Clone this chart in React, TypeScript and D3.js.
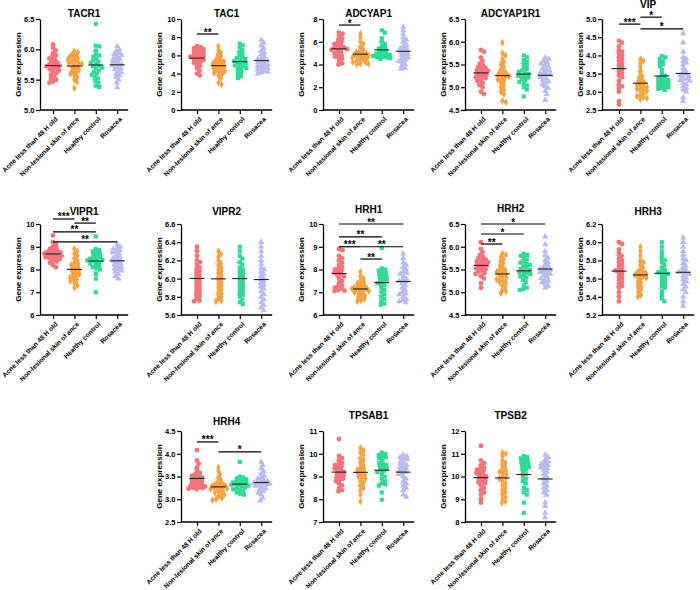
import React, {useEffect, useRef} from 'react';
import * as d3 from 'd3';

const groups = ['Acne less than 48 H old', 'Non-lesional skin of ance', 'Healthy control', 'Rosacea'];
const colors = ['#f5737a', '#f8a23e', '#2ddb96', '#babaf3'];

// values per group
const tacr1 = [
    [6.08, 6.02, 5.98, 5.93, 5.90, 5.87, 5.85, 5.82, 5.80, 5.78, 5.76, 5.75, 5.73, 5.72, 5.70, 5.69, 5.67, 5.65, 5.63, 5.61, 5.58, 5.55, 5.52, 5.50, 5.47, 5.45],
    [5.97, 5.95, 5.92, 5.90, 5.88, 5.86, 5.85, 5.83, 5.81, 5.80, 5.78, 5.77, 5.76, 5.74, 5.72, 5.70, 5.68, 5.66, 5.64, 5.62, 5.60, 5.57, 5.54, 5.50, 5.46, 5.36],
    [6.42, 6.06, 6.05, 5.98, 5.92, 5.90, 5.88, 5.85, 5.82, 5.80, 5.78, 5.75, 5.73, 5.72, 5.70, 5.68, 5.65, 5.63, 5.60, 5.58, 5.55, 5.52, 5.48, 5.45, 5.40, 5.38],
    [6.05, 6.00, 5.97, 5.94, 5.92, 5.90, 5.88, 5.86, 5.84, 5.82, 5.80, 5.78, 5.76, 5.75, 5.73, 5.71, 5.69, 5.67, 5.65, 5.62, 5.60, 5.57, 5.54, 5.50, 5.45, 5.37],
];
const tac1 = [
    [7.0, 6.9, 6.8, 6.7, 6.6, 6.5, 6.4, 6.3, 6.2, 6.1, 6.0, 5.9, 5.85, 5.8, 5.7, 5.6, 5.5, 5.4, 5.3, 5.2, 5.0, 4.8, 4.6, 4.3, 4.0, 3.8],
    [7.0, 6.6, 6.3, 6.1, 5.9, 5.7, 5.5, 5.4, 5.3, 5.2, 5.1, 5.0, 4.9, 4.8, 4.7, 4.6, 4.5, 4.4, 4.3, 4.2, 4.1, 4.0, 3.8, 3.5, 3.0, 2.8],
    [7.3, 7.1, 6.9, 6.6, 6.4, 6.2, 6.0, 5.8, 5.7, 5.6, 5.5, 5.4, 5.3, 5.2, 5.1, 5.0, 4.9, 4.8, 4.7, 4.6, 4.5, 4.3, 4.1, 3.9, 3.7, 3.5],
    [7.7, 7.4, 7.1, 6.8, 6.5, 6.3, 6.1, 5.9, 5.7, 5.6, 5.5, 5.4, 5.3, 5.2, 5.1, 5.0, 4.9, 4.8, 4.7, 4.6, 4.5, 4.4, 4.3, 4.2, 4.1, 4.0],
];
const adcyap1 = [
    [6.8, 6.7, 6.5, 6.3, 6.2, 6.0, 5.9, 5.8, 5.7, 5.6, 5.5, 5.45, 5.4, 5.35, 5.3, 5.2, 5.1, 5.0, 4.9, 4.8, 4.7, 4.6, 4.5, 4.3, 4.1, 4.0],
    [6.7, 6.4, 6.0, 5.8, 5.5, 5.3, 5.2, 5.1, 5.0, 4.95, 4.9, 4.85, 4.8, 4.75, 4.7, 4.65, 4.6, 4.55, 4.5, 4.4, 4.3, 4.25, 4.2, 4.1, 4.05, 4.0],
    [7.0, 6.8, 6.3, 6.0, 5.8, 5.6, 5.5, 5.4, 5.3, 5.2, 5.1, 5.0, 4.95, 4.9, 4.85, 4.8, 4.75, 4.7, 4.65, 4.6, 4.55, 4.5],
    [7.3, 7.0, 6.7, 6.4, 6.2, 6.0, 5.8, 5.6, 5.5, 5.4, 5.3, 5.2, 5.1, 5.0, 4.9, 4.8, 4.7, 4.6, 4.5, 4.4, 4.3, 4.2, 4.0, 3.9, 3.7, 3.6],
];
const adcyap1r1 = [
    [5.82, 5.78, 5.65, 5.58, 5.52, 5.48, 5.45, 5.42, 5.40, 5.38, 5.36, 5.34, 5.32, 5.30, 5.28, 5.26, 5.24, 5.22, 5.20, 5.17, 5.14, 5.10, 5.05, 5.00, 4.90, 4.85],
    [5.98, 5.75, 5.70, 5.62, 5.55, 5.50, 5.45, 5.40, 5.36, 5.33, 5.30, 5.28, 5.26, 5.24, 5.22, 5.20, 5.17, 5.14, 5.10, 5.05, 5.00, 4.95, 4.90, 4.85, 4.70, 4.67],
    [5.70, 5.66, 5.60, 5.56, 5.52, 5.48, 5.44, 5.40, 5.37, 5.34, 5.31, 5.29, 5.27, 5.25, 5.23, 5.21, 5.18, 5.15, 5.12, 5.08, 5.04, 5.00, 4.95, 4.80],
    [5.65, 5.62, 5.58, 5.55, 5.52, 5.48, 5.45, 5.42, 5.39, 5.36, 5.33, 5.31, 5.29, 5.27, 5.25, 5.22, 5.19, 5.16, 5.13, 5.10, 5.06, 5.02, 4.98, 4.92, 4.85, 4.72],
];
const vip = [
    [4.40, 4.35, 4.25, 4.15, 4.10, 4.05, 4.00, 3.95, 3.90, 3.85, 3.80, 3.75, 3.70, 3.65, 3.60, 3.55, 3.50, 3.45, 3.40, 3.30, 3.20, 3.15, 3.10, 3.00, 2.75, 2.65],
    [3.90, 3.85, 3.80, 3.70, 3.60, 3.50, 3.42, 3.38, 3.32, 3.28, 3.25, 3.20, 3.18, 3.15, 3.12, 3.10, 3.08, 3.05, 3.02, 3.00, 2.95, 2.90, 2.88, 2.85, 2.82, 2.80],
    [3.98, 3.95, 3.90, 3.85, 3.80, 3.75, 3.70, 3.60, 3.50, 3.45, 3.40, 3.38, 3.35, 3.32, 3.30, 3.28, 3.25, 3.22, 3.20, 3.18, 3.15, 3.12, 3.10, 3.08, 3.05],
    [4.60, 4.35, 4.10, 3.95, 3.90, 3.85, 3.80, 3.75, 3.65, 3.58, 3.52, 3.48, 3.45, 3.42, 3.38, 3.35, 3.32, 3.30, 3.25, 3.20, 3.15, 3.10, 3.05, 3.00, 2.85, 2.75],
];
const vipr1 = [
    [9.50, 9.20, 9.10, 9.00, 8.95, 8.90, 8.85, 8.80, 8.78, 8.75, 8.72, 8.70, 8.68, 8.65, 8.62, 8.60, 8.58, 8.55, 8.52, 8.50, 8.45, 8.40, 8.35, 8.30, 8.20, 8.10],
    [8.90, 8.80, 8.70, 8.60, 8.50, 8.40, 8.30, 8.25, 8.20, 8.15, 8.10, 8.05, 8.00, 7.95, 7.90, 7.85, 7.80, 7.75, 7.70, 7.65, 7.60, 7.55, 7.50, 7.40, 7.30, 7.20],
    [9.45, 8.90, 8.85, 8.80, 8.75, 8.70, 8.65, 8.60, 8.55, 8.50, 8.48, 8.45, 8.42, 8.40, 8.38, 8.35, 8.30, 8.25, 8.20, 8.15, 8.10, 8.05, 8.00, 7.80, 7.60, 7.00],
    [9.10, 9.00, 8.95, 8.90, 8.85, 8.80, 8.75, 8.70, 8.60, 8.55, 8.50, 8.45, 8.40, 8.35, 8.30, 8.25, 8.20, 8.15, 8.10, 8.05, 8.00, 7.95, 7.90, 7.80, 7.70, 7.60],
];
const vipr2 = [
    [6.35, 6.30, 6.25, 6.20, 6.18, 6.15, 6.12, 6.10, 6.08, 6.06, 6.04, 6.02, 6.00, 5.98, 5.96, 5.94, 5.92, 5.90, 5.88, 5.86, 5.84, 5.82, 5.80, 5.78, 5.76, 5.75],
    [6.30, 6.27, 6.24, 6.20, 6.17, 6.14, 6.12, 6.10, 6.08, 6.06, 6.04, 6.02, 6.00, 5.98, 5.96, 5.94, 5.92, 5.90, 5.88, 5.86, 5.84, 5.82, 5.80, 5.78, 5.76, 5.75],
    [6.35, 6.30, 6.25, 6.22, 6.18, 6.15, 6.12, 6.10, 6.08, 6.06, 6.04, 6.02, 6.00, 5.98, 5.96, 5.94, 5.92, 5.90, 5.88, 5.86, 5.84, 5.82, 5.80, 5.77, 5.74, 5.72],
    [6.40, 6.35, 6.30, 6.25, 6.20, 6.16, 6.12, 6.10, 6.08, 6.05, 6.03, 6.01, 5.99, 5.97, 5.95, 5.93, 5.91, 5.89, 5.86, 5.83, 5.80, 5.77, 5.74, 5.71, 5.68, 5.65],
];
const hrh1 = [
    [8.90, 8.85, 8.60, 8.50, 8.40, 8.30, 8.20, 8.10, 8.05, 8.00, 7.95, 7.90, 7.85, 7.80, 7.75, 7.70, 7.60, 7.50, 7.40, 7.30, 7.25, 7.20, 7.15, 7.10, 7.07, 7.05],
    [7.90, 7.70, 7.60, 7.50, 7.45, 7.40, 7.35, 7.30, 7.25, 7.22, 7.20, 7.18, 7.15, 7.12, 7.10, 7.08, 7.05, 7.00, 6.95, 6.90, 6.85, 6.80, 6.75, 6.70, 6.65, 6.60],
    [8.95, 8.05, 8.00, 7.95, 7.90, 7.85, 7.80, 7.75, 7.70, 7.65, 7.60, 7.55, 7.50, 7.45, 7.40, 7.35, 7.30, 7.20, 7.10, 7.00, 6.90, 6.80, 6.70, 6.60, 6.50, 6.45],
    [8.70, 8.50, 8.30, 8.20, 8.10, 8.00, 7.90, 7.85, 7.80, 7.70, 7.60, 7.55, 7.50, 7.45, 7.40, 7.30, 7.20, 7.10, 7.00, 6.95, 6.90, 6.80, 6.70, 6.65, 6.60, 6.55],
];
const hrh2 = [
    [6.10, 5.95, 5.88, 5.82, 5.78, 5.75, 5.72, 5.70, 5.68, 5.66, 5.64, 5.62, 5.60, 5.58, 5.56, 5.54, 5.52, 5.50, 5.48, 5.45, 5.42, 5.40, 5.35, 5.30, 5.20, 5.10],
    [5.85, 5.82, 5.78, 5.72, 5.68, 5.62, 5.58, 5.54, 5.50, 5.48, 5.45, 5.43, 5.40, 5.38, 5.35, 5.32, 5.30, 5.28, 5.25, 5.22, 5.20, 5.15, 5.10, 5.05, 5.02, 4.98],
    [5.85, 5.82, 5.80, 5.76, 5.72, 5.68, 5.65, 5.62, 5.60, 5.57, 5.54, 5.51, 5.49, 5.46, 5.44, 5.42, 5.40, 5.38, 5.35, 5.32, 5.28, 5.22, 5.15, 5.10, 5.07, 5.05],
    [6.22, 6.05, 5.90, 5.82, 5.76, 5.70, 5.66, 5.62, 5.58, 5.55, 5.52, 5.50, 5.48, 5.46, 5.44, 5.42, 5.40, 5.37, 5.34, 5.31, 5.28, 5.25, 5.22, 5.18, 5.14, 5.10],
];
const hrh3 = [
    [6.00, 5.98, 5.92, 5.88, 5.85, 5.82, 5.80, 5.78, 5.76, 5.74, 5.72, 5.70, 5.69, 5.68, 5.66, 5.64, 5.62, 5.60, 5.58, 5.56, 5.54, 5.52, 5.50, 5.45, 5.40, 5.35],
    [5.95, 5.90, 5.85, 5.80, 5.78, 5.75, 5.72, 5.70, 5.68, 5.67, 5.66, 5.65, 5.64, 5.63, 5.62, 5.61, 5.60, 5.58, 5.56, 5.54, 5.52, 5.50, 5.48, 5.45, 5.42, 5.40],
    [6.00, 5.95, 5.90, 5.86, 5.82, 5.80, 5.78, 5.75, 5.72, 5.70, 5.68, 5.67, 5.66, 5.65, 5.64, 5.62, 5.60, 5.58, 5.56, 5.54, 5.52, 5.50, 5.46, 5.42, 5.38, 5.35],
    [6.05, 6.00, 5.95, 5.90, 5.86, 5.82, 5.80, 5.77, 5.74, 5.72, 5.70, 5.68, 5.67, 5.66, 5.65, 5.63, 5.61, 5.59, 5.57, 5.54, 5.51, 5.48, 5.45, 5.40, 5.35, 5.30],
];
const hrh4 = [
    [4.08, 3.85, 3.78, 3.70, 3.62, 3.58, 3.55, 3.52, 3.50, 3.48, 3.46, 3.44, 3.42, 3.40, 3.38, 3.36, 3.34, 3.32, 3.30, 3.29, 3.28, 3.27, 3.26, 3.25, 3.23, 3.22],
    [3.70, 3.62, 3.55, 3.48, 3.42, 3.38, 3.35, 3.33, 3.31, 3.30, 3.29, 3.28, 3.27, 3.26, 3.25, 3.24, 3.22, 3.20, 3.18, 3.15, 3.12, 3.10, 3.06, 3.03, 3.00, 2.98],
    [3.82, 3.50, 3.48, 3.46, 3.44, 3.42, 3.40, 3.38, 3.37, 3.36, 3.35, 3.34, 3.33, 3.32, 3.31, 3.30, 3.28, 3.26, 3.24, 3.22, 3.20, 3.18, 3.15, 3.12, 3.10],
    [3.82, 3.75, 3.68, 3.62, 3.56, 3.52, 3.48, 3.45, 3.42, 3.40, 3.38, 3.37, 3.36, 3.35, 3.34, 3.33, 3.31, 3.29, 3.27, 3.24, 3.21, 3.18, 3.14, 3.10, 3.03, 2.97],
];
const tpsab1 = [
    [10.65, 9.90, 9.80, 9.70, 9.60, 9.55, 9.50, 9.45, 9.40, 9.35, 9.30, 9.25, 9.20, 9.15, 9.10, 9.05, 9.00, 8.95, 8.90, 8.85, 8.80, 8.70, 8.60, 8.50, 8.40, 8.35],
    [10.25, 10.15, 10.05, 9.95, 9.80, 9.70, 9.60, 9.50, 9.40, 9.35, 9.30, 9.25, 9.20, 9.15, 9.10, 9.05, 9.00, 8.95, 8.90, 8.80, 8.70, 8.60, 8.50, 8.40, 8.20, 7.90],
    [10.05, 10.00, 9.95, 9.90, 9.85, 9.80, 9.70, 9.60, 9.55, 9.50, 9.45, 9.40, 9.35, 9.30, 9.25, 9.20, 9.10, 9.00, 8.90, 8.80, 8.70, 8.65, 8.60, 8.30, 7.98],
    [9.95, 9.90, 9.85, 9.80, 9.75, 9.70, 9.60, 9.55, 9.50, 9.45, 9.40, 9.35, 9.30, 9.25, 9.20, 9.15, 9.10, 9.00, 8.90, 8.80, 8.70, 8.60, 8.50, 8.40, 8.20, 8.10],
];
const tpsb2 = [
    [11.35, 10.70, 10.60, 10.50, 10.40, 10.35, 10.30, 10.25, 10.20, 10.15, 10.10, 10.05, 10.00, 9.95, 9.90, 9.85, 9.80, 9.75, 9.70, 9.60, 9.50, 9.40, 9.30, 9.20, 9.00, 8.85],
    [11.05, 11.00, 10.90, 10.70, 10.60, 10.50, 10.40, 10.30, 10.25, 10.20, 10.15, 10.10, 10.00, 9.95, 9.90, 9.80, 9.70, 9.60, 9.50, 9.40, 9.30, 9.20, 9.10, 9.00, 8.90, 8.85],
    [10.90, 10.85, 10.80, 10.75, 10.70, 10.65, 10.60, 10.55, 10.50, 10.45, 10.40, 10.35, 10.30, 10.20, 10.10, 10.00, 9.90, 9.80, 9.70, 9.50, 9.40, 9.30, 9.20, 8.85, 8.40],
    [10.95, 10.85, 10.75, 10.65, 10.60, 10.55, 10.50, 10.45, 10.40, 10.35, 10.30, 10.20, 10.10, 10.00, 9.90, 9.80, 9.70, 9.60, 9.50, 9.40, 9.30, 9.20, 8.85, 8.70, 8.40, 8.20],
];

// significance brackets: [from group, to group, height in data units, label]
const sigTac1 = [[0, 1, 8.35, '**']];
const sigAdcyap1 = [[0, 1, 7.47, '*']];
const sigVip = [[0, 1, 4.86, '***'], [1, 2, 5.05, '*'], [1, 3, 4.73, '*']];
const sigVipr1 = [[0, 1, 10.22, '***'], [1, 2, 10.04, '**'], [0, 2, 9.65, '**'], [0, 3, 9.21, '**']];
const sigHrh1 = [[0, 3, 10.0, '**'], [0, 2, 9.43, '**'], [0, 1, 9.0, '***'], [1, 3, 9.0, '**'], [1, 2, 8.46, '**']];
const sigHrh2 = [[0, 3, 6.5, '*'], [0, 2, 6.28, '*'], [0, 1, 6.06, '**']];
const sigHrh4 = [[0, 1, 4.26, '***'], [1, 3, 4.04, '*']];

const panels = [
    {gene: 'TACR1', values: tacr1, domain: [5, 6.5], step: 0.5, col: 0, row: 0, titleY: 17, sig: []},
    {gene: 'TAC1', values: tac1, domain: [0, 10], step: 2, col: 1, row: 0, titleY: 17, sig: sigTac1},
    {gene: 'ADCYAP1', values: adcyap1, domain: [0, 8], step: 2, col: 2, row: 0, titleY: 17, sig: sigAdcyap1},
    {gene: 'ADCYAP1R1', values: adcyap1r1, domain: [4.5, 6.5], step: 0.5, col: 3, row: 0, titleY: 17, sig: []},
    {gene: 'VIP', values: vip, domain: [2.5, 5], step: 0.5, col: 4, row: 0, titleY: 8, sig: sigVip},
    {gene: 'VIPR1', values: vipr1, domain: [6, 10], step: 1, col: 0, row: 1, titleY: 215, sig: sigVipr1},
    {gene: 'VIPR2', values: vipr2, domain: [5.6, 6.6], step: 0.2, col: 1, row: 1, titleY: 215, sig: []},
    {gene: 'HRH1', values: hrh1, domain: [6, 10], step: 1, col: 2, row: 1, titleY: 213, sig: sigHrh1},
    {gene: 'HRH2', values: hrh2, domain: [4.5, 6.5], step: 0.5, col: 3, row: 1, titleY: 212, sig: sigHrh2},
    {gene: 'HRH3', values: hrh3, domain: [5.2, 6.2], step: 0.2, col: 4, row: 1, titleY: 215, sig: []},
    {gene: 'HRH4', values: hrh4, domain: [2.5, 4.5], step: 0.5, col: 1, row: 2, titleY: 425, sig: sigHrh4},
    {gene: 'TPSAB1', values: tpsab1, domain: [7, 11], step: 1, col: 2, row: 2, titleY: 419, sig: []},
    {gene: 'TPSB2', values: tpsb2, domain: [8, 12], step: 1, col: 3, row: 2, titleY: 419, sig: []},
];

const colAxis = [40, 181, 323, 465, 602];
const colCat = [53, 197, 339, 481, 619];
const rowTop = [19, 224, 431];
const plotH = 91;
const catStep = 21.4;
const font = "'Liberation Sans', Arial, sans-serif";
const shapes = [d3.symbolCircle, d3.symbolDiamond, d3.symbolSquare, d3.symbolTriangle];
const shapeSize = [19, 17, 17, 17];

// simple beeswarm: offset each point sideways until it clears the ones already placed
function swarm(ys, gap, maxW) {
    const order = d3.range(ys.length).sort((a, b) => ys[a] - ys[b]);
    const placed = [];
    const xs = new Array(ys.length).fill(0);
    const cands = [0];
    for (let k = 0.5; k <= maxW; k += 0.5) cands.push(k, -k);
    order.forEach(i => {
        let best = 0, bestD = -1;
        for (const c of cands) {
            let dmin = Infinity;
            for (const p of placed) {
                const d = Math.hypot(p.x - c, p.y - ys[i]);
                if (d < dmin) dmin = d;
            }
            if (dmin >= gap) { best = c; break; }
            if (dmin > bestD) { bestD = dmin; best = c; }
        }
        xs[i] = best;
        placed.push({x: best, y: ys[i]});
    });
    return xs;
}

const App = () => {
    const svgRef = useRef(null);

    useEffect(() => {
        const svg = d3.select(svgRef.current);
        svg.selectAll('*').remove();

        panels.forEach(p => {
            const ax = colAxis[p.col];
            const c0 = colCat[p.col];
            const top = rowTop[p.row];
            const right = c0 + catStep * 3 + 11;
            const g = svg.append('g');

            const x = d3.scalePoint().domain(groups).range([c0, c0 + catStep * 3]);
            const y = d3.scaleLinear().domain(p.domain).range([top + plotH, top]);
            const ticks = d3.range(p.domain[0], p.domain[1] + p.step / 2, p.step);
            const fmt = p.step < 1 ? d3.format('.1f') : d3.format('d');

            // title
            g.append('text')
                .attr('x', (ax + right) / 2)
                .attr('y', p.titleY)
                .attr('text-anchor', 'middle')
                .attr('font-family', font)
                .attr('font-weight', 'bold')
                .attr('font-size', 10)
                .text(p.gene);

            // y axis
            const yAxis = g.append('g')
                .attr('transform', `translate(${ax},0)`)
                .call(d3.axisLeft(y).tickValues(ticks).tickFormat(fmt).tickSize(4).tickSizeOuter(0));
            yAxis.select('.domain').attr('stroke-width', 1.3);
            yAxis.selectAll('.tick line').attr('stroke-width', 1.2);
            yAxis.selectAll('text')
                .attr('font-family', font)
                .attr('font-weight', 'bold')
                .attr('font-size', 7.5)
                .attr('x', -5.5);

            g.append('text')
                .attr('transform', `translate(${ax - 19},${top + plotH / 2}) rotate(-90)`)
                .attr('text-anchor', 'middle')
                .attr('font-family', font)
                .attr('font-weight', 'bold')
                .attr('font-size', 8)
                .text('Gene expression');

            // x axis
            g.append('line')
                .attr('x1', ax).attr('x2', right)
                .attr('y1', top + plotH).attr('y2', top + plotH)
                .attr('stroke', '#000').attr('stroke-width', 1.3);
            const xAxis = g.append('g')
                .attr('transform', `translate(0,${top + plotH})`)
                .call(d3.axisBottom(x).tickSize(4).tickSizeOuter(0));
            xAxis.select('.domain').remove();
            xAxis.selectAll('.tick line').attr('stroke-width', 1.2);
            xAxis.selectAll('text')
                .attr('font-family', font)
                .attr('font-weight', 'bold')
                .attr('font-size', 6.7)
                .attr('text-anchor', 'end')
                .attr('x', 0).attr('y', 0).attr('dy', '0.35em')
                .attr('transform', 'translate(3,8) rotate(-45)');

            // points, mean and SD
            p.values.forEach((vals, gi) => {
                const cx = x(groups[gi]);
                const ys = vals.map(v => y(v));
                const xs = swarm(ys, 3.4, 8.5);
                const col = colors[gi];
                const m = d3.mean(vals);
                const sd = d3.deviation(vals);

                g.append('g').selectAll('path')
                    .data(vals)
                    .enter()
                    .append('path')
                    .attr('d', d3.symbol().type(shapes[gi]).size(shapeSize[gi]))
                    .attr('transform', (d, i) => `translate(${cx + xs[i]},${ys[i]})`)
                    .attr('fill', col);

                const eb = g.append('g').attr('stroke', col).attr('stroke-width', 1).attr('opacity', 0.75);
                eb.append('line').attr('x1', cx).attr('x2', cx).attr('y1', y(m - sd)).attr('y2', y(m + sd));
                eb.append('line').attr('x1', cx - 3.5).attr('x2', cx + 3.5).attr('y1', y(m - sd)).attr('y2', y(m - sd));
                eb.append('line').attr('x1', cx - 3.5).attr('x2', cx + 3.5).attr('y1', y(m + sd)).attr('y2', y(m + sd));

                g.append('line')
                    .attr('x1', cx - 7.5).attr('x2', cx + 7.5)
                    .attr('y1', y(m)).attr('y2', y(m))
                    .attr('stroke', '#222').attr('stroke-width', 1.1);
            });

            // significance brackets
            p.sig.forEach(([a, b, v, label]) => {
                const yy = y(v);
                g.append('line')
                    .attr('x1', x(groups[a])).attr('x2', x(groups[b]))
                    .attr('y1', yy).attr('y2', yy)
                    .attr('stroke', '#000').attr('stroke-width', 1.2);
                g.append('text')
                    .attr('x', (x(groups[a]) + x(groups[b])) / 2)
                    .attr('y', yy + 1.5)
                    .attr('text-anchor', 'middle')
                    .attr('font-family', font)
                    .attr('font-weight', 'bold')
                    .attr('font-size', 10)
                    .text(label);
            });
        });
    }, []);

    return (
        <svg ref={svgRef} width={700} height={590}
             style={{position: 'absolute', left: 0, top: 0, background: '#fff'}}></svg>
    );
};

export default App;
